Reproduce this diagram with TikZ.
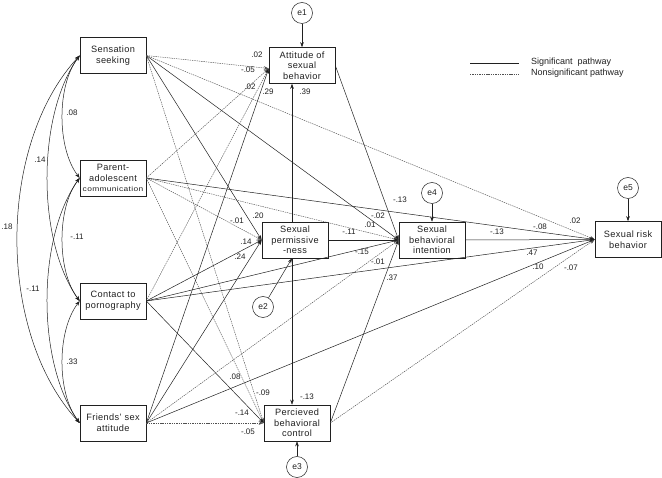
\documentclass[tikz,border=0pt]{standalone}
\usepackage{fontspec}
\setmainfont{Liberation Sans}
\newfontfamily\boxfont[LetterSpace=4]{Liberation Sans}
\usetikzlibrary{arrows.meta,calc}
\definecolor{nsgray}{HTML}{505050}
\definecolor{lingray}{HTML}{202020}
\begin{document}
\begin{tikzpicture}[x=1pt,y=-1pt,
  box/.style={draw=lingray, line width=0.6pt, minimum width=66pt, minimum height=36pt, inner sep=1pt, align=center, text=lingray, font=\boxfont\fontsize{9.2}{10.7}\selectfont},
  err/.style={draw=lingray, circle, line width=0.5pt, minimum size=21pt, inner sep=0pt, text=lingray, font=\fontsize{8.5}{10}\selectfont},
  lab/.style={font=\fontsize{8}{9}\selectfont, inner sep=0pt, text=lingray},
  sig/.style={draw=lingray, line width=0.5pt, -{Stealth[length=5pt,width=3.6pt]}},
  ns/.style={draw=nsgray, line width=0.45pt, dash pattern=on 1.4pt off 0.9pt, -{Stealth[length=5pt,width=3.6pt]}},
  cov/.style={draw=lingray, line width=0.5pt, {Stealth[length=5pt,width=3.6pt]}-{Stealth[length=5pt,width=3.6pt]}},
  legtext/.style={anchor=west, inner sep=0pt, text=lingray, font=\fontsize{9}{10}\selectfont}
]
\useasboundingbox (0,0) rectangle (662,478);

% boxes
\node[box] (ss)  at (113,55.5) {Sensation\\seeking};
\node[box] (pac) at (113,178) {Parent-\\adolescent\\{\fontsize{7}{8}\selectfont\scalebox{1.2}[1]{communication}}};
\node[box] (cp)  at (113,301) {Contact to\\pornography};
\node[box] (fsa) at (113,423) {Friends’ sex\\attitude};
\node[box] (asb) at (302,65.5) {Attitude of\\sexual\\behavior};
\node[box] (sp)  at (295,240) {Sexual\\permissive\\-ness};
\node[box] (sbi) at (432,240) {Sexual\\behavioral\\intention};
\node[box] (srb) at (628,239.5) {Sexual risk\\behavior};
\node[box] (pbc) at (297,423) {Percieved\\behavioral\\control};

% error terms
\node[err] (e1) at (302,13) {e1};
\node[err] (e2) at (263,307) {e2};
\node[err] (e3) at (297,467) {e3};
\node[err] (e4) at (432,193) {e4};
\node[err] (e5) at (628,188) {e5};

\coordinate (asbin) at ($(asb.west)+(0,3)$);
\coordinate (vx) at (292,0);

% sensation seeking
\draw[ns]  (ss.east) -- (asbin);
\draw[sig] (ss.east) -- (sp.west);
\draw[sig] (ss.east) -- (sbi.west);
\draw[ns]  (ss.east) -- (srb.west);
\draw[ns]  (ss.east) -- (pbc.west);
% parent-adolescent communication
\draw[ns]  (pac.east) -- (asbin);
\draw[ns]  (pac.east) -- (sp.west);
\draw[ns]  (pac.east) -- (sbi.west);
\draw[sig] (pac.east) -- (srb.west);
\draw[ns]  (pac.east) -- (pbc.west);
% contact to pornography
\draw[ns]  (cp.east) -- (asbin);
\draw[sig] (cp.east) -- (sp.west);
\draw[sig] (cp.east) -- (sbi.west);
\draw[sig] (cp.east) -- (srb.west);
\draw[sig] (cp.east) -- (pbc.west);
% friends' sex attitude
\draw[sig] (fsa.east) -- (asbin);
\draw[sig] (fsa.east) -- (sp.west);
\draw[ns]  (fsa.east) -- (sbi.west);
\draw[sig] (fsa.east) -- (srb.west);
\draw[ns]  (fsa.east) -- (pbc.west);

% mediators
\draw[sig] (sp.north -| vx) -- (asb.south -| vx);
\draw[sig] (sp.south -| vx) -- (pbc.north -| vx);
\draw[sig] (sp.east) -- (sbi.west);
\draw[sig] (asb.east) -- (sbi.west);
\draw[sig] (pbc.east) -- (sbi.west);
\draw[ns]  (pbc.east) -- (srb.west);
\draw[sig] (sbi.east) -- (srb.west);

% error arrows
\draw[sig] (e1) -- (asb.north);
\draw[sig] (e2) -- (sp.south -| vx);
\draw[sig] (e3) -- (pbc.south);
\draw[sig] (e4) -- (sbi.north);
\draw[sig] (e5) -- (srb.north);

% covariances
\draw[cov] (ss.west)  .. controls +(-23,30) and +(-23,-30) .. (pac.west);
\draw[cov] (pac.west) .. controls +(-23,30) and +(-23,-30) .. (cp.west);
\draw[cov] (cp.west)  .. controls +(-23,30) and +(-23,-30) .. (fsa.west);
\draw[cov] (ss.west)  .. controls +(-43,60) and +(-43,-60) .. (cp.west);
\draw[cov] (pac.west) .. controls +(-43,60) and +(-43,-60) .. (fsa.west);
\draw[cov] (ss.west)  .. controls +(-83,90) and +(-83,-90) .. (fsa.west);

% covariance labels
\node[lab] (c1) at (72,113) {.08};
\node[lab] (c2) at (40,160) {.14};
\node[lab] (c3) at (7,227) {.18};
\node[lab] (c4) at (77,237) {-.11};
\node[lab] (c5) at (33,289) {-.11};
\node[lab] (c6) at (72,362) {.33};

% path labels
\node[lab] (l1) at (257,55) {.02};
\node[lab] (l2) at (248,70) {-.05};
\node[lab] (l3) at (250,87) {.02};
\node[lab] (l4) at (268,92) {.29};
\node[lab] (l5) at (305,92) {.39};
\node[lab] (l6) at (237,221) {-.01};
\node[lab] (l7) at (258,216) {.20};
\node[lab] (l8) at (246,242) {.14};
\node[lab] (l9) at (240,257) {.24};
\node[lab] (l10) at (400,200) {-.13};
\node[lab] (l11) at (378,216) {-.02};
\node[lab] (l12) at (370,225) {.01};
\node[lab] (l13) at (349,232) {-.11};
\node[lab] (l14) at (362,252) {-.15};
\node[lab] (l15) at (378,262) {-.01};
\node[lab] (l16) at (392,278) {.37};
\node[lab] (l17) at (575,221) {.02};
\node[lab] (l18) at (540,227) {-.08};
\node[lab] (l19) at (497,232) {-.13};
\node[lab] (l20) at (532,253) {.47};
\node[lab] (l21) at (538,267) {.10};
\node[lab] (l22) at (571,268) {-.07};
\node[lab] (l23) at (235,377) {.08};
\node[lab] (l24) at (263,393) {-.09};
\node[lab] (l25) at (242,413) {-.14};
\node[lab] (l26) at (248,432) {-.05};
\node[lab] (l27) at (307,397) {-.13};

% legend
\coordinate (g1a) at (470,63);
\coordinate (g1b) at (519,63);
\coordinate (g2a) at (470,74);
\coordinate (g2b) at (519,74);
\draw[draw=lingray, line width=0.5pt] (g1a) -- (g1b);
\draw[draw=nsgray, line width=0.45pt, dash pattern=on 1.4pt off 0.9pt] (g2a) -- (g2b);
\node[legtext] (gt1) at (531,62) {Significant\ \ pathway};
\node[legtext] (gt2) at (531,73) {Nonsignificant pathway};
\end{tikzpicture}
\end{document}
